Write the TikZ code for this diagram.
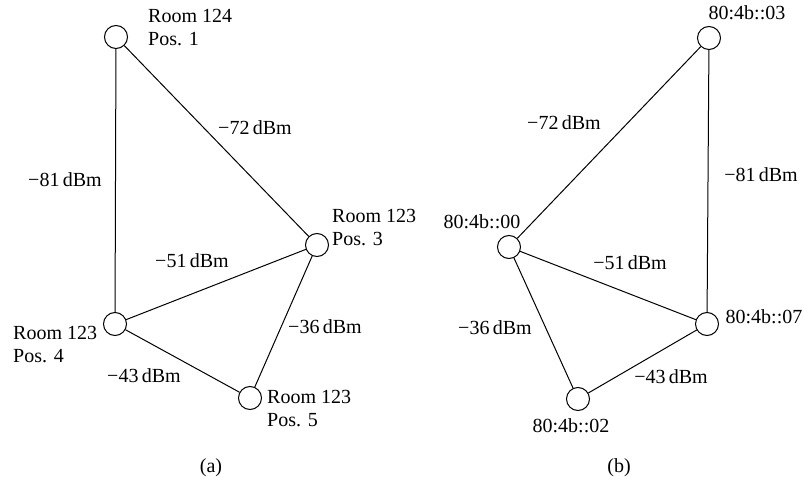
\documentclass[tikz,border=0pt]{standalone}
\usepackage{fontspec}
\setmainfont{Liberation Serif}
\begin{document}
\begin{tikzpicture}[x=1pt,y=-1pt,
  station/.style={circle,draw,line width=1pt,minimum size=23pt,inner sep=0pt,fill=white},
  link/.style={line width=1pt},
  txt/.style={inner sep=0pt,font=\fontsize{20}{23}\selectfont,align=left},
]
\useasboundingbox (0,0) rectangle (804,481);

% ---- (a) positions in the rooms
\node[station] (p1) at (116,37) {};
\node[station] (p3) at (317,245) {};
\node[station] (p4) at (115,324) {};
\node[station] (p5) at (250,398) {};

\draw[link] (p1) -- (p3);
\draw[link] (p1) -- (p4);
\draw[link] (p4) -- (p3);
\draw[link] (p3) -- (p5);
\draw[link] (p4) -- (p5);

\node[txt,anchor=west] (l1) at (148,28) {Room 124\\Pos. 1};
\node[txt,anchor=west] (l3) at (332,228) {Room 123\\Pos. 3};
\node[txt,anchor=west] (l4) at (13,345) {Room 123\\Pos. 4};
\node[txt,anchor=west] (l5) at (267,409) {Room 123\\Pos. 5};

\node[txt] (e13) at (255,128) {−72\,dBm};
\node[txt] (e14) at (65,180) {−81\,dBm};
\node[txt] (e43) at (192,261) {−51\,dBm};
\node[txt] (e35) at (325,327) {−36\,dBm};
\node[txt] (e45) at (144,376) {−43\,dBm};

\node[txt] (capa) at (211,468) {(a)};

% ---- (b) node addresses
\node[station] (n03) at (709,38) {};
\node[station] (n00) at (509,247) {};
\node[station] (n07) at (707,324) {};
\node[station] (n02) at (578,399) {};

\draw[link] (n03) -- (n00);
\draw[link] (n03) -- (n07);
\draw[link] (n00) -- (n07);
\draw[link] (n00) -- (n02);
\draw[link] (n02) -- (n07);

\node[txt] (a03) at (747,13) {80:4b::03};
\node[txt] (a00) at (482,222) {80:4b::00};
\node[txt] (a07) at (764,317) {80:4b::07};
\node[txt] (a02) at (571,426) {80:4b::02};

\node[txt] (f0300) at (564,123) {−72\,dBm};
\node[txt] (f0307) at (761,175) {−81\,dBm};
\node[txt] (f0007) at (630,263) {−51\,dBm};
\node[txt] (f0002) at (495,328) {−36\,dBm};
\node[txt] (f0207) at (671,377) {−43\,dBm};

\node[txt] (capb) at (619,468) {(b)};
\end{tikzpicture}
\end{document}
